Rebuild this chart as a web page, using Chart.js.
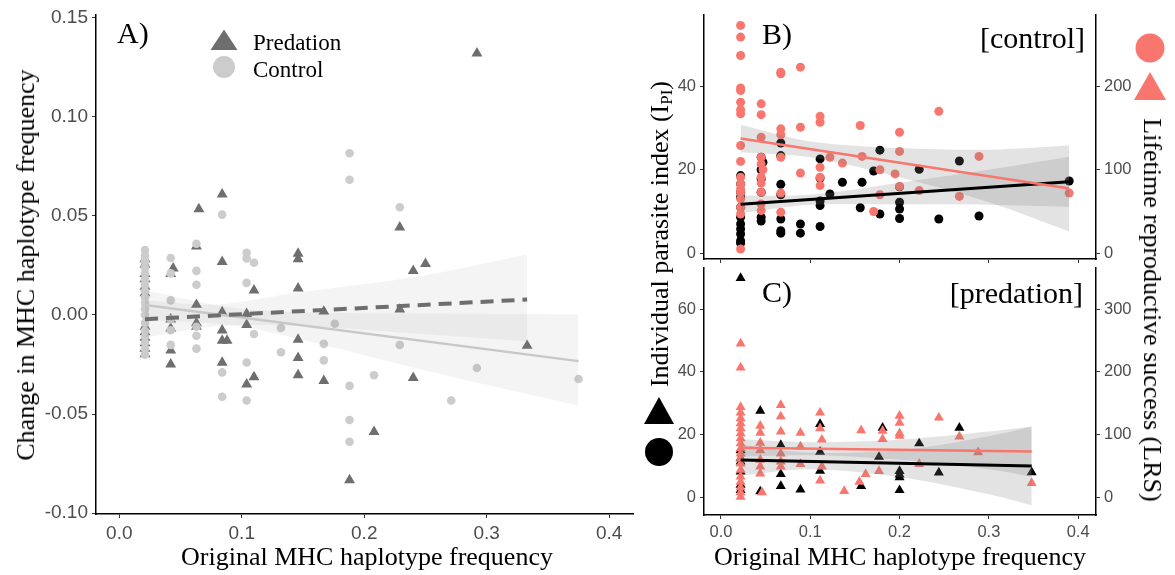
<!DOCTYPE html>
<html><head><meta charset="utf-8">
<script src="https://cdn.jsdelivr.net/npm/chart.js@4.4.1/dist/chart.umd.min.js"></script>
<style>
html,body{margin:0;padding:0;background:#fff;}
body{width:1175px;height:575px;position:relative;overflow:hidden;font-family:"Liberation Serif","Times New Roman",serif;}
.cv{position:absolute;}
.t{position:absolute;white-space:nowrap;color:#000;line-height:1;}
.rot{transform:translate(-50%,-50%) rotate(-90deg);}
.rot90{transform:translate(-50%,-50%) rotate(90deg);}
.ctr{transform:translate(-50%,-50%);}
.vc{transform:translateY(-50%);}
svg{position:absolute;overflow:visible;}
</style></head><body>
<canvas id="cA" class="cv" width="640" height="575" style="left:0;top:0"></canvas>
<canvas id="cB" class="cv" width="535" height="265" style="left:640px;top:0"></canvas>
<canvas id="cC" class="cv" width="535" height="313" style="left:640px;top:262px"></canvas>

<!-- Panel A texts -->
<div class="t rot" style="left:26px;top:265px;font-size:26px">Change in MHC haplotype frequency</div>
<div class="t ctr" style="left:367px;top:557px;font-size:26px">Original MHC haplotype frequency</div>
<div class="t vc" style="left:117px;top:33px;font-size:30px">A)</div>
<svg style="left:0;top:0" width="1" height="1">
  <polygon points="224,29.5 237.5,50 210.5,50" fill="#6e6e6e"/>
  <circle cx="224" cy="67" r="11" fill="#cccccc"/>
  <polygon points="659,397 674,424 644,424" fill="#000"/>
  <circle cx="659" cy="452" r="14" fill="#000"/>
  <circle cx="1150" cy="48" r="14.5" fill="#F8766D"/>
  <polygon points="1150,72 1166,100 1134,100" fill="#F8766D"/>
</svg>
<div class="t vc" style="left:253px;top:42px;font-size:23px">Predation</div>
<div class="t vc" style="left:253px;top:69px;font-size:23px">Control</div>

<!-- Panels B/C texts -->
<div class="t vc" style="left:762px;top:34px;font-size:30px">B)</div>
<div class="t vc" style="right:90px;top:38px;font-size:30px">[control]</div>
<div class="t vc" style="left:762px;top:292px;font-size:30px">C)</div>
<div class="t vc" style="right:92px;top:293px;font-size:30px">[predation]</div>
<div class="t rot" style="left:660px;top:234px;font-size:26px">Individual parasite index (I<sub style="font-size:17px;vertical-align:-4px;line-height:0">PI</sub>)</div>
<div class="t rot90" style="left:1152px;top:310px;font-size:26px">Lifetime reproductive success (LRS)</div>
<div class="t ctr" style="left:900px;top:557px;font-size:26px">Original MHC haplotype frequency</div>

<script>
// ---------- tick values / labels ----------
const freqTicks = [0, 0.1, 0.2, 0.3, 0.4];
const freqLabels = ['0.0', '0.1', '0.2', '0.3', '0.4'];
const aYTicks = [-0.10, -0.05, 0, 0.05, 0.10, 0.15];
const aYLabels = ['-0.10', '-0.05', '0.00', '0.05', '0.10', '0.15'];
const bLeftTicks = [0, 20, 40];
const bRightTicks = [0, 100, 200];
const cLeftTicks = [0, 20, 40, 60];
const cRightTicks = [0, 100, 200, 300];

// ---------- Panel A: change in haplotype frequency ----------
const aPredation = [
 [0.021,0.0282],[0.021,0.0255],[0.021,0.0208],[0.021,0.0181],[0.021,0.0144],[0.021,0.0110],[0.021,-0.0059],[0.021,-0.0087],[0.021,-0.0114],[0.021,-0.0142],[0.021,-0.0170],[0.021,-0.0197],
 [0.044,0.0236],[0.042,0.0208],[0.042,-0.0022],[0.042,-0.0068],[0.042,-0.0179],[0.042,-0.0249],
 [0.065,0.0535],[0.063,0.0347],[0.063,0.0052],[0.063,-0.0041],[0.063,-0.0059],
 [0.084,0.0609],[0.084,0.0269],[0.084,0.0015],[0.084,-0.0077],[0.084,-0.0129],[0.088,-0.0129],[0.084,-0.0240],
 [0.104,0.0006],[0.104,-0.0050],[0.104,-0.0350],
 [0.110,0.0125],[0.110,-0.0314],
 [0.146,0.0310],[0.146,0.0282],[0.146,0.0135],[0.146,-0.0124],[0.146,-0.0216],[0.146,-0.0303],
 [0.167,0.0018],[0.167,-0.0332],
 [0.188,-0.0834],[0.208,-0.0590],
 [0.229,0.0443],[0.229,0.0028],
 [0.240,0.0223],[0.240,-0.0317],
 [0.250,0.0258],[0.292,0.1321],[0.333,-0.0155]
];
const aControl = [
 [0.021,0.0328],[0.021,0.0300],[0.021,0.0270],[0.021,0.0240],[0.021,0.0210],[0.021,0.0180],[0.021,0.0150],[0.021,0.0120],[0.021,0.0090],[0.021,0.0060],[0.021,0.0030],[0.021,0.0000],[0.021,-0.0040],[0.021,-0.0080],[0.021,-0.0110],[0.021,-0.0140],[0.021,-0.0170],[0.021,-0.0200],
 [0.042,0.0288],[0.042,0.0210],[0.042,0.0074],[0.042,-0.0022],[0.042,-0.0077],[0.042,-0.0151],
 [0.063,0.0360],[0.063,0.0223],[0.063,0.0153],[0.063,-0.0059],[0.063,-0.0105],[0.063,-0.0170],
 [0.084,0.0507],[0.084,-0.0290],[0.084,-0.0413],
 [0.104,0.0314],[0.104,0.0286],[0.104,0.0162],[0.104,-0.0240],[0.104,-0.0432],
 [0.110,0.0264],[0.110,-0.0096],
 [0.132,-0.0065],[0.132,-0.0188],
 [0.167,-0.0146],[0.167,-0.0229],
 [0.176,-0.0044],
 [0.188,0.0817],[0.188,0.0683],[0.188,-0.0358],[0.188,-0.0530],[0.188,-0.0640],
 [0.208,-0.0304],
 [0.229,0.0544],[0.229,-0.0151],
 [0.271,-0.0432],[0.292,-0.0268],[0.375,-0.0323]
];
const aPredFitX = [0.021, 0.333];
const aPredFitY = [-0.0021, 0.0078];
const aPredBandX = [0.021, 0.08, 0.146, 0.24, 0.333];
const aPredBandHi = [0.0075, 0.0053, 0.0113, 0.0190, 0.0306];
const aPredBandLo = [-0.0115, -0.0057, -0.0055, -0.0092, -0.0134];
const aCtrlFitX = [0.021, 0.375];
const aCtrlFitY = [0.0050, -0.0233];
const aCtrlBandX = [0.021, 0.09, 0.146, 0.25, 0.375];
const aCtrlBandHi = [0.0125, 0.0039, 0.0014, 0.0008, 0.0004];
const aCtrlBandLo = [-0.0025, -0.0050, -0.0120, -0.0280, -0.0458];

// ---------- Panel B: control (circles) ----------
const bIPI = [
 [0.022,18.6],[0.022,16.6],[0.022,14.6],[0.022,13.4],[0.022,11.0],[0.022,8.6],[0.022,7.0],[0.022,5.8],[0.022,4.6],[0.022,3.0],[0.022,2.4],
 [0.045,23.0],[0.047,21.8],[0.045,20.0],[0.045,17.8],[0.045,14.6],[0.045,8.6],[0.045,7.7],
 [0.067,26.4],[0.067,23.4],[0.067,16.5],[0.067,14.0],[0.067,8.2],[0.067,5.4],[0.067,4.8],
 [0.089,7.0],[0.089,4.8],
 [0.111,22.6],[0.111,18.0],[0.111,12.5],[0.111,11.4],[0.111,6.4],
 [0.122,14.2],[0.136,17.0],[0.158,17.0],[0.156,10.9],
 [0.171,19.7],[0.178,24.7],[0.178,9.4],
 [0.200,15.9],[0.200,12.2],[0.200,10.6],[0.200,8.3],
 [0.222,20.1],[0.244,8.2],[0.267,22.1],[0.289,8.9],[0.390,17.3]
];
const bLRS = [
 [0.022,273],[0.022,259],[0.022,237],[0.022,198],[0.022,195],[0.022,181],[0.022,172],[0.022,167],[0.022,129],[0.022,110],[0.022,91],[0.022,83],[0.022,77],[0.022,73],[0.022,65],[0.022,55],[0.022,47],[0.022,5],
 [0.045,179],[0.045,166],[0.045,139],[0.045,115],[0.045,107],[0.047,100],[0.045,91],[0.045,84],[0.045,73],[0.045,59],[0.045,51],
 [0.067,217],[0.067,215],[0.067,149],[0.067,142],[0.067,115],[0.067,72],[0.067,49],
 [0.089,223],[0.089,151],[0.089,96],
 [0.111,164],[0.111,157],[0.111,103],[0.111,91],[0.111,81],
 [0.122,115],[0.136,108],[0.156,153],[0.158,116],
 [0.171,50],[0.178,100],[0.178,70],[0.195,95],
 [0.200,145],[0.200,122],[0.200,80],
 [0.222,75],[0.244,170],[0.267,68],[0.289,116],[0.390,72]
];
const bFitX = [0.022, 0.390];
const bIPIFit = [11.7, 17.1];
const bLRSFit = [137.5, 77.6];
const bBandX = [0.022, 0.1, 0.2, 0.3, 0.390];
const bIPIBandHi = [13.8, 14.0, 16.9, 20.0, 23.1];
const bIPIBandLo = [9.6, 11.6, 11.7, 11.6, 11.1];
const bLRSBandHi = [154, 134, 126, 124, 129];
const bLRSBandLo = [121, 115, 91, 61, 26];

// ---------- Panel C: predation (triangles) ----------
const cIPI = [
 [0.022,69.9],[0.022,15.0],[0.022,12.5],[0.022,11.4],[0.022,8.2],[0.022,4.0],[0.022,2.3],
 [0.044,27.6],[0.044,1.9],
 [0.067,16.7],[0.067,7.4],[0.067,3.6],
 [0.089,2.5],
 [0.111,23.4],[0.111,14.5],[0.111,8.5],
 [0.157,3.6],[0.177,12.9],[0.181,22.2],
 [0.200,8.4],[0.200,7.3],[0.200,6.4],[0.200,2.3],
 [0.222,17.2],[0.244,7.9],[0.267,22.2],[0.348,8.0]
];
const cLRS = [
 [0.022,245],[0.022,207],[0.022,144],[0.022,135],[0.022,126],[0.022,118],[0.022,110],[0.022,102],[0.022,94],[0.022,86],[0.022,78],[0.022,70],[0.022,62],[0.022,54],[0.022,44],[0.022,33],[0.022,25],[0.022,16],[0.022,8],[0.022,1],
 [0.044,114],[0.044,103],[0.044,87],[0.044,75],[0.044,60],[0.044,49],[0.044,38],[0.046,8],
 [0.067,147],[0.067,129],[0.067,105],[0.067,70],[0.067,57],[0.067,49],
 [0.089,103],[0.089,81],[0.089,53],
 [0.111,135],[0.111,110],[0.113,92],[0.113,49],[0.111,27],
 [0.138,10],[0.157,107],[0.155,25],[0.162,37],[0.177,42],
 [0.181,106],[0.181,93],
 [0.200,130],[0.200,119],[0.200,102],[0.200,98],
 [0.222,53],[0.244,127],[0.267,97],[0.288,72],[0.348,23]
];
const cFitX = [0.022, 0.348];
const cIPIFit = [11.9, 10.0];
const cLRSFit = [79, 73];
const cBandX = [0.022, 0.1, 0.2, 0.3, 0.348];
const cIPIBandHi = [16.8, 14.3, 15.0, 19.5, 22.5];
const cIPIBandLo = [7.0, 9.0, 6.5, 1.0, -2.5];
const cLRSBandHi = [93, 88, 92, 105, 113];
const cLRSBandLo = [65, 67, 60, 45, 33];

// ---------- helpers ----------
const SANS = "'Liberation Sans', Arial, sans-serif";
const RED = '#F8766D';
const pts = arr => arr.map(([x, y]) => ({x, y}));
const zipXY = (xs, ys) => xs.map((x, i) => ({x, y: ys[i]}));

function scatterSet(arr, color, style, r, order, axis) {
  return {data: pts(arr), backgroundColor: color, borderWidth: 0, pointStyle: style,
          pointRadius: r, pointHoverRadius: r, order, yAxisID: axis || 'y'};
}
function fitSet(xs, ys, color, w, dash, order, axis) {
  return {data: zipXY(xs, ys), showLine: true, borderColor: color, borderWidth: w,
          borderDash: dash || [], pointRadius: 0, fill: false, order, yAxisID: axis || 'y'};
}
function bandSets(xs, hi, lo, color, order, axis) {
  return [
    {data: zipXY(xs, hi), showLine: true, borderColor: 'rgba(0,0,0,0)', borderWidth: 0,
     pointRadius: 0, fill: false, tension: 0.3, order, yAxisID: axis || 'y'},
    {data: zipXY(xs, lo), showLine: true, borderColor: 'rgba(0,0,0,0)', borderWidth: 0,
     pointRadius: 0, fill: '-1', backgroundColor: color, tension: 0.3, order, yAxisID: axis || 'y'}
  ];
}
function scale(o) {
  return {
    type: 'linear', position: o.pos, min: o.min, max: o.max,
    afterBuildTicks: s => { s.ticks = o.ticks.map(v => ({value: v})); },
    afterFit: s => {
      if (o.w != null) s.width = o.w;
      if (o.h != null) s.height = o.h;
      s.paddingTop = 0; s.paddingBottom = 0; s.paddingLeft = 0; s.paddingRight = 0;
    },
    ticks: {display: o.show !== false, autoSkip: false, maxRotation: 0, padding: 4,
            color: '#4D4D4D', font: {family: SANS, size: o.fs},
            callback: (v, i) => (o.labels ? o.labels[i] : String(o.ticks[i]))},
    grid: {drawOnChartArea: false, drawTicks: true, tickLength: 4, color: '#333', lineWidth: 1},
    border: {display: true, color: '#000', width: 1.5}
  };
}
function makeChart(id, datasets, scales, padding) {
  return new Chart(document.getElementById(id), {
    type: 'scatter',
    data: {datasets},
    options: {
      responsive: false, animation: false, devicePixelRatio: 1, events: [],
      layout: {padding},
      plugins: {legend: {display: false}, tooltip: {enabled: false}},
      scales
    }
  });
}

// ---------- Panel A ----------
const bandA = 'rgba(128,128,128,0.09)';
makeChart('cA', [
  scatterSet(aPredation, '#6e6e6e', 'triangle', 6.3, 5),
  scatterSet(aControl, '#cccccc', 'circle', 4.3, 4),
  ...bandSets(aPredBandX, aPredBandHi, aPredBandLo, bandA, 3),
  ...bandSets(aCtrlBandX, aCtrlBandHi, aCtrlBandLo, bandA, 3),
  fitSet(aCtrlFitX, aCtrlFitY, '#c8c8c8', 2.5, null, 2),
  fitSet(aPredFitX, aPredFitY, '#6e6e6e', 4, [13, 8], 1)
], {
  x: scale({pos: 'bottom', min: -0.019, max: 0.42, ticks: freqTicks, labels: freqLabels, fs: 19, h: 61}),
  y: scale({pos: 'left', min: -0.1005, max: 0.1515, ticks: aYTicks, labels: aYLabels, fs: 19, w: 96})
}, {top: 15, right: 2, left: 0, bottom: 0});

// ---------- Panel B ----------
const bandBC = 'rgba(128,128,128,0.22)';
makeChart('cB', [
  scatterSet(bIPI, '#000', 'circle', 4.5, 5, 'y'),
  scatterSet(bLRS, RED, 'circle', 4.5, 4, 'y2'),
  ...bandSets(bBandX, bIPIBandHi, bIPIBandLo, bandBC, 3, 'y'),
  ...bandSets(bBandX, bLRSBandHi, bLRSBandLo, bandBC, 3, 'y2'),
  fitSet(bFitX, bLRSFit, RED, 2.5, null, 1, 'y2'),
  fitSet(bFitX, bIPIFit, '#000', 3, null, 1, 'y')
], {
  x: scale({pos: 'bottom', min: -0.019, max: 0.42, ticks: freqTicks, labels: freqLabels, fs: 16.5, h: 6, show: false}),
  y: scale({pos: 'left', min: -1.4, max: 57.1, ticks: bLeftTicks, fs: 16.5, w: 64}),
  y2: scale({pos: 'right', min: -7, max: 285.5, ticks: bRightTicks, fs: 16.5, w: 79})
}, {top: 15, right: 0, left: 0, bottom: 0});

// ---------- Panel C ----------
makeChart('cC', [
  scatterSet(cIPI, '#000', 'triangle', 5.8, 5, 'y'),
  scatterSet(cLRS, RED, 'triangle', 5.8, 4, 'y2'),
  ...bandSets(cBandX, cIPIBandHi, cIPIBandLo, bandBC, 3, 'y'),
  ...bandSets(cBandX, cLRSBandHi, cLRSBandLo, bandBC, 3, 'y2'),
  fitSet(cFitX, cLRSFit, RED, 2.5, null, 1, 'y2'),
  fitSet(cFitX, cIPIFit, '#000', 3, null, 1, 'y')
], {
  x: scale({pos: 'bottom', min: -0.019, max: 0.42, ticks: freqTicks, labels: freqLabels, fs: 16.5, h: 60}),
  y: scale({pos: 'left', min: -5.6, max: 73.1, ticks: cLeftTicks, fs: 16.5, w: 64}),
  y2: scale({pos: 'right', min: -28, max: 365.5, ticks: cRightTicks, fs: 16.5, w: 79})
}, {top: 6, right: 0, left: 0, bottom: 0});
</script>
</body></html>
